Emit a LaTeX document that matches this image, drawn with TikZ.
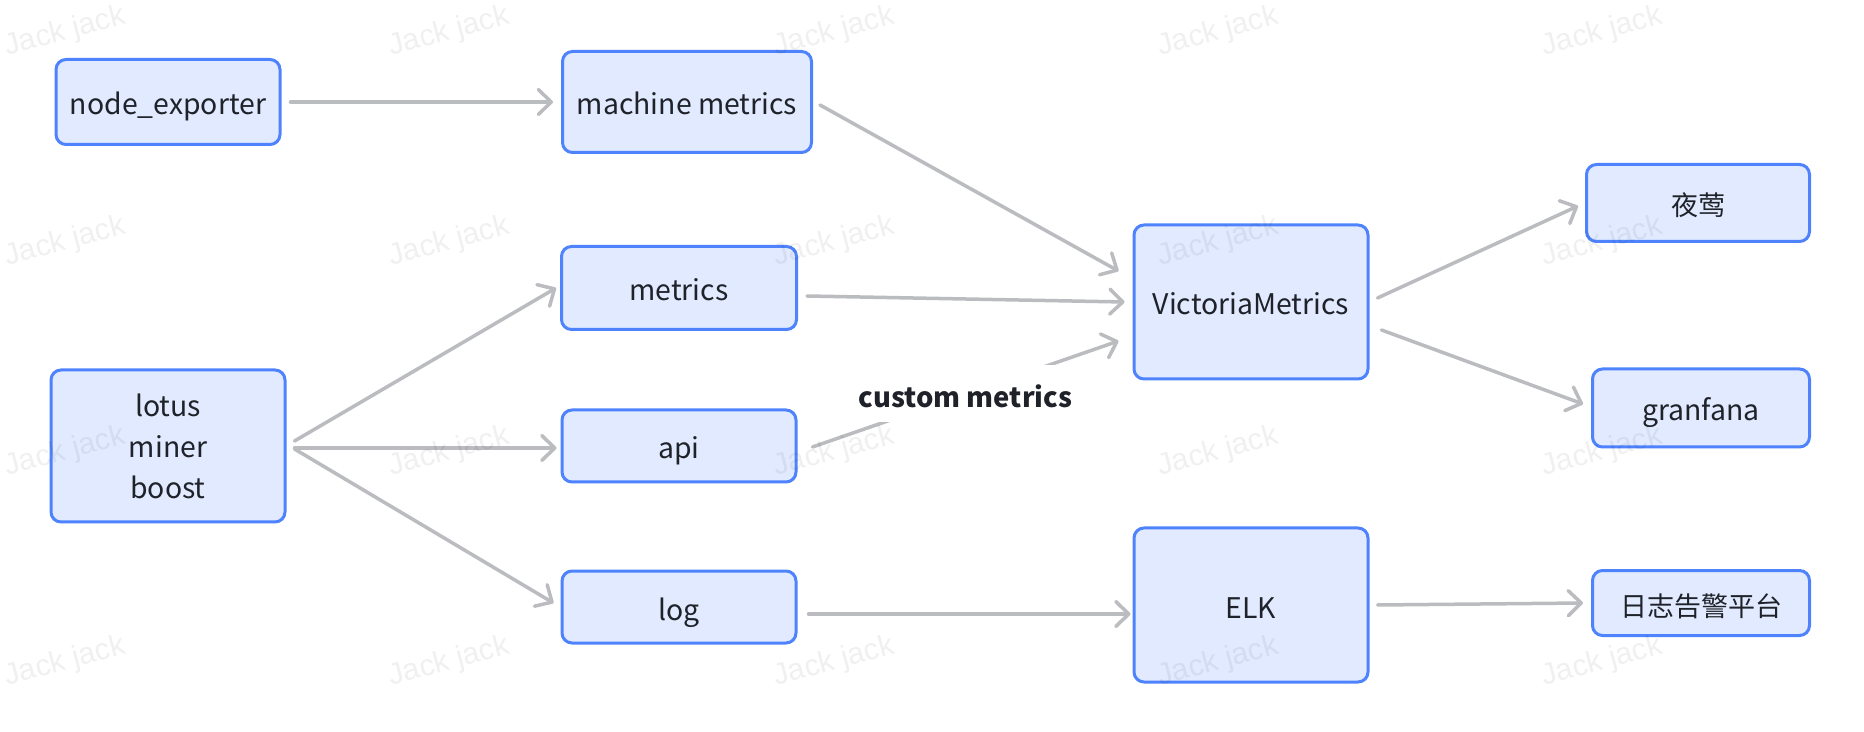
\documentclass[tikz,border=0pt]{standalone}
\usepackage{fontspec}
\setmainfont{Noto Sans CJK SC}
\newfontfamily\wmfont{Liberation Sans}
\usetikzlibrary{arrows.meta,calc}
\definecolor{boxborder}{HTML}{4E83FD}
\definecolor{boxfill}{HTML}{E1EAFF}
\definecolor{arrowgray}{HTML}{BABCC0}
\definecolor{textdark}{HTML}{1F2329}
\newcommand{\cjktext}[1]{{\fontsize{13.5pt}{16pt}\selectfont #1}}
\begin{document}
\begin{tikzpicture}[x=0.5pt,y=-0.5pt,
  box/.style={draw=boxborder, fill=boxfill, line width=1.5pt, rounded corners=5pt,
    text=textdark, font=\fontsize{14.2pt}{20.5pt}\selectfont, align=center, inner sep=0pt},
  oneline/.style={text height=14pt, text depth=1pt},
  arr/.style={draw=arrowgray, line width=1.75pt, line cap=round,
    -{Straight Barb[length=6.5pt,width=12.5pt,round]}},
  lbl/.style={fill=white, text=textdark, font=\bfseries\fontsize{13.7pt}{18pt}\selectfont,
    text height=15pt, text depth=1pt, inner xsep=4pt, inner ysep=6.25pt},
  wm/.style={font=\wmfont\fontsize{15pt}{15pt}\selectfont, text=black, opacity=0.06, rotate=15, inner sep=0pt}
]
\useasboundingbox (0,0) rectangle (1864,732);
\fill[white] (0,0) rectangle (1864,732);

% boxes
\node[box, oneline, minimum width=112pt, minimum height=42.5pt] (ne) at (168,102) {node\_exporter};
\node[box, oneline, minimum width=124.5pt, minimum height=50.5pt] (mm) at (687,102) {machine metrics};
\node[box, oneline, minimum width=117.5pt, minimum height=41.5pt] (met) at (679,288) {metrics};
\node[box, minimum width=117pt, minimum height=76pt] (lo) at (168,446) {lotus\\miner\\boost};
\node[box, oneline, minimum width=117pt, minimum height=36pt] (api) at (679,446) {api};
\node[box, oneline, minimum width=117pt, minimum height=36pt] (log) at (679,607) {log};
\node[box, oneline, minimum width=117pt, minimum height=77pt] (vm) at (1251,302) {VictoriaMetrics};
\node[box, oneline, minimum width=117pt, minimum height=77pt] (elk) at (1251,605) {ELK};
\node[box, oneline, minimum width=111.5pt, minimum height=38.5pt] (ye) at (1698,203) {\cjktext{夜莺}};
\node[box, oneline, minimum width=108.5pt, minimum height=39pt] (gr) at (1701,408) {granfana};
\node[box, oneline, minimum width=108.5pt, minimum height=32.5pt] (rz) at (1701,603) {\cjktext{日志告警平台}};

% connectors
\draw[arr] ($(ne.east)+(9,0)$) -- ($(mm.west)+(-8,0)$);
\draw[arr] ($(mm.east)+(7,3)$) -- ($(vm.west)+(-14,-31)$);
\draw[arr] ($(met.east)+(9,8)$) -- ($(vm.west)+(-8,0)$);
\draw[arr] ($(api.east)+(15,1)$) -- node[lbl] (cm) {custom metrics} ($(vm.west)+(-14,39)$);
\draw[arr] ($(lo.east)+(8,-5)$) -- ($(met.west)+(-4,0)$);
\draw[arr] ($(lo.east)+(8,2)$) -- ($(api.west)+(-4,2)$);
\draw[arr] ($(lo.east)+(8,3)$) -- ($(log.west)+(-7,-4)$);
\draw[arr] ($(log.east)+(11,7)$) -- ($(elk.west)+(-2,9)$);
\draw[arr] ($(vm.east)+(8,-4)$) -- ($(ye.west)+(-7,3)$);
\draw[arr] ($(vm.east)+(12,28)$) -- ($(gr.west)+(-8,-4)$);
\draw[arr] ($(elk.east)+(8,0)$) -- ($(rz.west)+(-8,0)$);

% watermark
\foreach \i/\cx in {1/65,2/449,3/834,4/1218,5/1602}{
  \foreach \j/\cy in {1/32,2/242,3/452,4/662}{
    \node[wm] (wm-\i-\j) at (\cx,\cy) {Jack jack};
  }
}
\end{tikzpicture}
\end{document}
